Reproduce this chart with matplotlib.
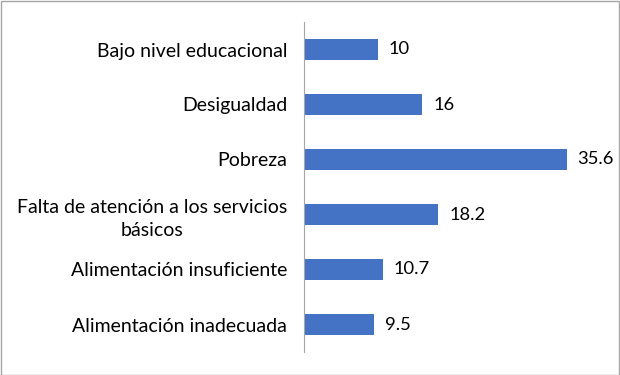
import matplotlib
matplotlib.use("Agg")
import matplotlib.pyplot as plt
from matplotlib.patches import Rectangle

categories = ["Bajo nivel educacional", "Desigualdad", "Pobreza",
              "Falta de atención a los servicios\nbásicos",
              "Alimentación insuficiente", "Alimentación inadecuada"]
values = [10, 16, 35.6, 18.2, 10.7, 9.5]
value_labels = ["10", "16", "35.6", "18.2", "10.7", "9.5"]

plt.rcParams['font.family'] = ['Lato', 'DejaVu Sans']

fig = plt.figure(figsize=(6.2, 3.75), dpi=100)
ax = fig.add_axes([304/620, 1-352/375, (599-304)/620, 330/375])

n = len(categories)
ypos = list(range(n))[::-1]
ax.barh(ypos, values, height=0.39, color="#4472C4")
for y, v, lab in zip(ypos, values, value_labels):
    ax.text(v + 1.5, y, lab, va="center", ha="left", fontsize=13.2, color="#000000")

ax.set_xlim(0, 40)
ax.set_ylim(-0.5, n - 0.5)
ax.set_yticks(ypos)
labels = ax.set_yticklabels(categories, fontsize=14.0, color="#000000")
for t in labels:
    t.set_multialignment("center")
    t.set_linespacing(1.45)
ax.tick_params(axis="y", length=0, pad=12)
ax.set_xticks([])
for s in ["top", "right", "bottom"]:
    ax.spines[s].set_visible(False)
ax.spines["left"].set_color("#a6a6a6")
ax.spines["left"].set_linewidth(0.8)

fig.patches.append(Rectangle((0.001, 0.001), 0.997, 0.996, transform=fig.transFigure,
                             fill=False, edgecolor="#a6a6a6", linewidth=1.0))

fig.savefig("out.png", dpi=100)
